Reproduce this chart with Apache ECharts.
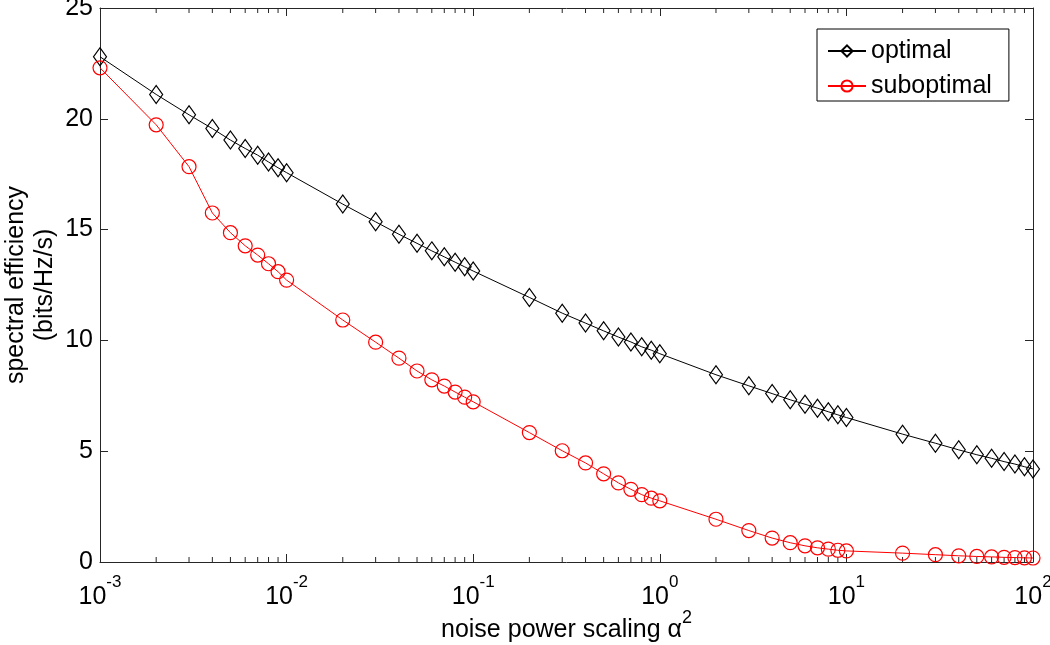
<!DOCTYPE html>
<html>
<head>
<meta charset="utf-8">
<script src="https://cdn.jsdelivr.net/npm/echarts@6/dist/echarts.min.js"></script>
<style>
html,body{margin:0;padding:0;background:#fff;}
#chart{width:1050px;height:645px;}
</style>
</head>
<body>
<div id="chart"></div>
<script>
// noise power scaling alpha^2 (x values)
var alpha = [0.001,0.002,0.003,0.004,0.005,0.006,0.007,0.008,0.009,
             0.01,0.02,0.03,0.04,0.05,0.06,0.07,0.08,0.09,
             0.1,0.2,0.3,0.4,0.5,0.6,0.7,0.8,0.9,
             1,2,3,4,5,6,7,8,9,
             10,20,30,40,50,60,70,80,90,100];
// spectral efficiency (bits/Hz/s)
var optimal = [22.8,21.1,20.18,19.56,19.04,18.66,18.36,18.05,17.79,
               17.57,16.15,15.35,14.79,14.38,14.04,13.77,13.53,13.32,
               13.13,11.94,11.23,10.78,10.43,10.15,9.93,9.71,9.56,
               9.4,8.45,7.95,7.6,7.32,7.12,6.94,6.78,6.64,
               6.52,5.77,5.36,5.06,4.84,4.68,4.53,4.42,4.3,4.2];
var suboptimal = [22.3,19.73,17.84,15.75,14.86,14.27,13.85,13.46,13.1,
                  12.72,10.92,9.92,9.2,8.62,8.22,7.94,7.67,7.44,
                  7.23,5.84,5.02,4.47,3.98,3.57,3.28,3.04,2.88,
                  2.76,1.93,1.42,1.08,0.87,0.73,0.64,0.58,0.53,
                  0.5,0.4,0.33,0.28,0.25,0.23,0.21,0.2,0.19,0.18];
var seriesNames = ['optimal','suboptimal'];
var xMinorTicks = [0.002,0.003,0.004,0.005,0.006,0.007,0.008,0.009,
                   0.02,0.03,0.04,0.05,0.06,0.07,0.08,0.09,
                   0.2,0.3,0.4,0.5,0.6,0.7,0.8,0.9,
                   2,3,4,5,6,7,8,9,
                   20,30,40,50,60,70,80,90];
var yTicks = [0,5,10,15,20,25];

var FONT = 'Liberation Sans, Arial, sans-serif';
var AXC = '#262626';

function pairs(xs, ys){ return xs.map(function(x,i){ return [x, ys[i]]; }); }

var chart = echarts.init(document.getElementById('chart'), null, {renderer:'canvas'});

var xAxisCommon = {
  type:'log', logBase:10, min:0.001, max:100,
  axisLine:{show:true, onZero:false, lineStyle:{color:AXC, width:1}},
  axisTick:{show:true, inside:true, length:8, lineStyle:{color:AXC, width:1}},
  splitLine:{show:false}, minorTick:{show:false}
};
var yAxisCommon = {
  type:'value', min:yTicks[0], max:yTicks[yTicks.length-1], interval:5,
  axisLine:{show:true, lineStyle:{color:AXC, width:1}},
  axisTick:{show:true, inside:true, length:8, lineStyle:{color:AXC, width:1}},
  splitLine:{show:false}
};

var option = {
  animation:false,
  backgroundColor:'#fff',
  textStyle:{fontFamily:FONT},
  grid:{left:100, right:17, top:8, bottom:83, containLabel:false, outerBoundsMode:'none'},
  legend:{
    data:seriesNames,
    orient:'vertical',
    left:817, top:29,
    backgroundColor:'#fff',
    borderColor:'#000', borderWidth:1, borderRadius:0,
    padding:[8,17,1,10],
    itemWidth:38, itemHeight:14, itemGap:7,
    textStyle:{fontFamily:FONT, fontSize:25, color:'#000', lineHeight:28},
    selectedMode:false
  },
  xAxis:[
    Object.assign({}, xAxisCommon, {
      position:'bottom',
      axisLabel:{
        show:true, margin:12, color:'#000', fontFamily:FONT,
        formatter:function(v){
          var e = Math.round(Math.log(v)/Math.LN10);
          return '{b|10}{s|' + e + '}';
        },
        rich:{
          b:{fontSize:25, fontFamily:FONT, color:'#000', lineHeight:36, verticalAlign:'bottom'},
          s:{fontSize:17, fontFamily:FONT, color:'#000', lineHeight:12, verticalAlign:'top'}
        }
      },
      name:'{n|noise power scaling \u03b1}{s|2}',
      nameLocation:'middle', nameGap:47, nameMoveOverlap:false,
      nameTextStyle:{
        rich:{
          n:{fontSize:25, fontFamily:FONT, color:'#000', lineHeight:34, verticalAlign:'bottom'},
          s:{fontSize:18, fontFamily:FONT, color:'#000', lineHeight:12, verticalAlign:'top'}
        }
      }
    }),
    Object.assign({}, xAxisCommon, {position:'top', axisLabel:{show:false}})
  ],
  yAxis:[
    Object.assign({}, yAxisCommon, {
      position:'left',
      axisLabel:{show:true, margin:7, color:'#000', fontSize:25, fontFamily:FONT},
      name:'spectral efficiency\n(bits/Hz/s)',
      nameLocation:'middle', nameGap:40, nameRotate:90, nameMoveOverlap:false,
      nameTextStyle:{fontSize:25, fontFamily:FONT, color:'#000', lineHeight:29}
    }),
    Object.assign({}, yAxisCommon, {position:'right', axisLabel:{show:false}})
  ],
  series:[
    {
      name:'minorTicks', type:'custom', xAxisIndex:0, yAxisIndex:0,
      silent:true, z:1,
      data:xMinorTicks.map(function(x){ return [x, 0]; }),
      renderItem:function(params, api){
        var x = api.value(0);
        var pb = api.coord([x, yTicks[0]]);
        var pt = api.coord([x, yTicks[yTicks.length-1]]);
        var st = {stroke:AXC, lineWidth:1};
        return {type:'group', children:[
          {type:'line', shape:{x1:pb[0], y1:pb[1], x2:pb[0], y2:pb[1]-5}, style:st},
          {type:'line', shape:{x1:pt[0], y1:pt[1], x2:pt[0], y2:pt[1]+5}, style:st}
        ]};
      }
    },
    {
      name:seriesNames[0], type:'line', xAxisIndex:0, yAxisIndex:0,
      data:pairs(alpha, optimal),
      symbol:'diamond', symbolSize:[13,18],
      lineStyle:{color:'#000', width:1},
      itemStyle:{color:'rgba(255,255,255,0)', borderColor:'#000', borderWidth:1.2},
      z:3
    },
    {
      name:seriesNames[1], type:'line', xAxisIndex:0, yAxisIndex:0,
      data:pairs(alpha, suboptimal),
      symbol:'circle', symbolSize:14,
      lineStyle:{color:'#ff0000', width:1},
      itemStyle:{color:'rgba(255,255,255,0)', borderColor:'#ff0000', borderWidth:1.2},
      z:3
    }
  ]
};
chart.setOption(option);
</script>
</body>
</html>
